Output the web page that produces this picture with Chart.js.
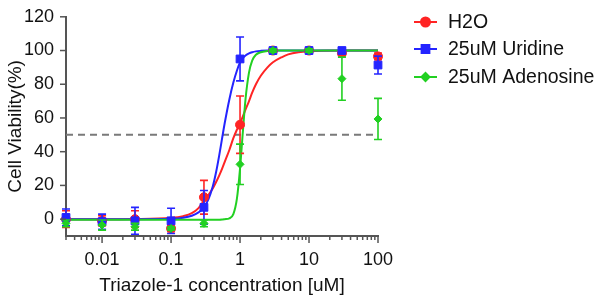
<!DOCTYPE html>
<html>
<head>
<meta charset="utf-8">
<script src="https://cdn.jsdelivr.net/npm/chart.js@4"></script>
<style>
html,body{margin:0;padding:0;background:#fff;}
#wrap{width:600px;height:303px;}
</style>
</head>
<body>
<div id="wrap"><canvas id="c" width="600" height="303"></canvas></div>
<script>
// ---- data ----
const concentrations = [0.003, 0.01, 0.03, 0.1, 0.3, 1, 3, 10, 30, 100];
const h2oMean      = [0, -1, 0, -5.5, 13, 56, 100, 100, 98.4, 96.5];
const h2oErr       = [5, 3, 5, 2, 10, 17, 1, 1, 1.5, 2];
const uridineMean  = [1, -1.5, -1, -1, 7, 95, 100, 100, 100, 91.4];
const uridineErr   = [5, 4.5, 8, 7.5, 10, 13, 1, 1, 1.5, 5.3];
const adenosineMean= [-2.5, -3.5, -4.5, -5.5, -2.5, 32.5, 100, 100, 83.3, 59.4];
const adenosineErr = [2, 3, 2, 1, 2, 12, 1, 1, 12.8, 12.2];

// fitted curves
const curveX        = [0.003,0.01,0.03,0.1,0.15,0.2,0.25,0.3,0.35,0.4,0.45,0.5,0.55,0.6,0.7,0.8,0.9,1.0,1.1,1.2,1.35,1.5,1.7,2,2.5,3,4,5,7,10,30,100];
const h2oCurve      = [0,0,0.1,0.8,1.8,3.5,6.5,11,14.5,18,22,26,30,34,41,48,53,57,61,65,70,75,80,85,90,93,96,97.7,99,99.6,100,100];
const uridineCurve  = [0,0,0,0.2,0.8,2,4,7,12,19,28,38,48,57,71,81,88,93,95.5,97,98.3,99,99.5,99.8,100,100,100,100,100,100,100,100];
const adenosineCurve= [-0.3,-0.3,-0.3,-0.3,-0.3,-0.3,-0.3,-0.3,-0.3,-0.3,-0.3,-0.3,-0.2,0,0.5,3,12,30,52,71,87,94,97.5,99,99.7,100,100,100,100,100,100,100];

const thresholdX = [0.003, 100];
const thresholdY = [50, 50];

const xTickLabels = ['0.01', '0.1', '1', '10', '100'];
const yTickValues = [0, 20, 40, 60, 80, 100, 120];

const seriesNames = ['H2O', '25uM Uridine', '25uM Adenosine'];
const RED = '#ff2424', BLUE = '#2424ff', GREEN = '#22d022';
const FONT = "'Liberation Sans', Arial, sans-serif";

const pts = (xs, ys) => xs.map((x, i) => ({x, y: ys[i]}));

const errorBars = {
  id: 'errorBars',
  beforeDatasetDraw(chart, args) {
    const ds = chart.data.datasets[args.index];
    if (!ds.errors) return;
    const {ctx, scales:{x, y}} = chart;
    ctx.save();
    ctx.strokeStyle = ds.borderColor;
    ctx.lineWidth = 1.6;
    ds.data.forEach((p, i) => {
      const e = ds.errors[i];
      const px = x.getPixelForValue(p.x);
      const top = y.getPixelForValue(p.y + e);
      const bot = y.getPixelForValue(p.y - e);
      ctx.beginPath();
      ctx.moveTo(px, top); ctx.lineTo(px, bot);
      ctx.moveTo(px - 4, top); ctx.lineTo(px + 4, top);
      ctx.moveTo(px - 4, bot); ctx.lineTo(px + 4, bot);
      ctx.stroke();
    });
    ctx.restore();
  }
};

const axisTicks = {
  id: 'axisTicks',
  afterDraw(chart) {
    const {ctx, scales:{x, y}, chartArea} = chart;
    ctx.save();
    ctx.strokeStyle = '#555';
    ctx.lineWidth = 1.5;
    x.ticks.forEach(t => {
      const px = x.getPixelForValue(t.value);
      const l = Math.log10(t.value);
      const major = Math.abs(l - Math.round(l)) < 1e-6;
      ctx.beginPath();
      ctx.moveTo(px, chartArea.bottom);
      ctx.lineTo(px, chartArea.bottom + (major ? 7 : 4));
      ctx.stroke();
    });
    y.ticks.forEach(t => {
      const py = y.getPixelForValue(t.value);
      ctx.beginPath();
      ctx.moveTo(chartArea.left - 6, py);
      ctx.lineTo(chartArea.left, py);
      ctx.stroke();
    });
    ctx.restore();
  }
};

const legendPlugin = {
  id: 'customLegend',
  afterDraw(chart) {
    const {ctx} = chart;
    const styles = [
      {c: RED, s: 'circle', r: 4.5},
      {c: BLUE, s: 'rect', r: 5.5},
      {c: GREEN, s: 'rectRot', r: 4}
    ];
    const ys = [22, 49, 77];
    ctx.save();
    seriesNames.forEach((name, i) => {
      const st = styles[i];
      ctx.strokeStyle = st.c; ctx.lineWidth = 2;
      ctx.beginPath(); ctx.moveTo(414, ys[i]); ctx.lineTo(437, ys[i]); ctx.stroke();
      ctx.fillStyle = st.c;
      Chart.helpers.drawPoint(ctx, {pointStyle: st.s, radius: st.r, rotation: 0, borderWidth: 1}, 425.5, ys[i]);
      ctx.fill();
      ctx.fillStyle = '#111';
      ctx.font = '19.5px ' + FONT;
      ctx.textBaseline = 'middle';
      ctx.textAlign = 'left';
      ctx.fillText(name, 448, ys[i] + 1);
    });
    ctx.restore();
  }
};

const pointDs = (label, ys, errs, color, style, r, order) => ({
  type: 'scatter', label, data: pts(concentrations, ys), errors: errs,
  borderColor: color, backgroundColor: color, pointStyle: style,
  pointRadius: r, pointHoverRadius: r, borderWidth: 1, showLine: false, order, clip: false
});
const curveDs = (label, ys, color, order) => ({
  type: 'line', label, data: pts(curveX, ys), borderColor: color, borderWidth: 2,
  pointRadius: 0, cubicInterpolationMode: 'monotone', fill: false, order, clip: false
});

new Chart(document.getElementById('c'), {
  data: {
    datasets: [
      {type: 'line', label: 'IC50', data: pts(thresholdX, thresholdY), borderColor: '#7a7a7a',
       borderWidth: 2, borderDash: [7, 5], pointRadius: 0, order: 20},
      curveDs('H2O fit', h2oCurve, RED, 12),
      curveDs('Uridine fit', uridineCurve, BLUE, 11),
      curveDs('Adenosine fit', adenosineCurve, GREEN, 10),
      pointDs(seriesNames[0], h2oMean, h2oErr, RED, 'circle', 4.5, 5),
      pointDs(seriesNames[1], uridineMean, uridineErr, BLUE, 'rect', 5.5, 4),
      pointDs(seriesNames[2], adenosineMean, adenosineErr, GREEN, 'rectRot', 4, 3)
    ]
  },
  options: {
    responsive: false,
    animation: false,
    layout: {padding: {top: 13, right: 222, left: 0, bottom: 0}},
    plugins: {legend: {display: false}, tooltip: {enabled: false}},
    scales: {
      x: {
        type: 'logarithmic', min: 0.003, max: 100,
        afterFit(s) { s.height = 67; },
        afterBuildTicks(s) {
          const t = [];
          for (let e = -3; e <= 2; e++) for (let m = 1; m <= 9; m++) {
            const v = +(m * Math.pow(10, e)).toPrecision(6);
            if (v >= 0.003 && v <= 100) t.push({value: v});
          }
          s.ticks = t;
        },
        grid: {display: false, drawTicks: true, tickLength: 7},
        border: {display: true, color: '#555', width: 2},
        ticks: {
          autoSkip: false, maxRotation: 0, padding: 6, color: '#111',
          font: {size: 18, family: FONT},
          callback(v) {
            const l = Math.log10(v);
            if (Math.abs(l - Math.round(l)) > 1e-6) return '';
            return xTickLabels[Math.round(l) + 2] ?? '';
          }
        },
        title: {display: true, text: 'Triazole-1 concentration [uM]', color: '#111',
                font: {size: 19, family: FONT}, padding: {top: 0, bottom: 6}}
      },
      y: {
        type: 'linear', min: -10, max: 120,
        afterFit(s) { s.width = 66; },
        afterBuildTicks(s) { s.ticks = yTickValues.map(v => ({value: v})); },
        grid: {display: false, drawTicks: true, tickLength: 6},
        border: {display: true, color: '#555', width: 2},
        ticks: {padding: 6, color: '#111', font: {size: 18, family: FONT}},
        title: {display: true, text: 'Cell Viability(%)', color: '#111',
                font: {size: 19, family: FONT}, padding: {top: 4, bottom: 0}}
      }
    }
  },
  plugins: [errorBars, axisTicks, legendPlugin]
});
</script>
</body>
</html>
